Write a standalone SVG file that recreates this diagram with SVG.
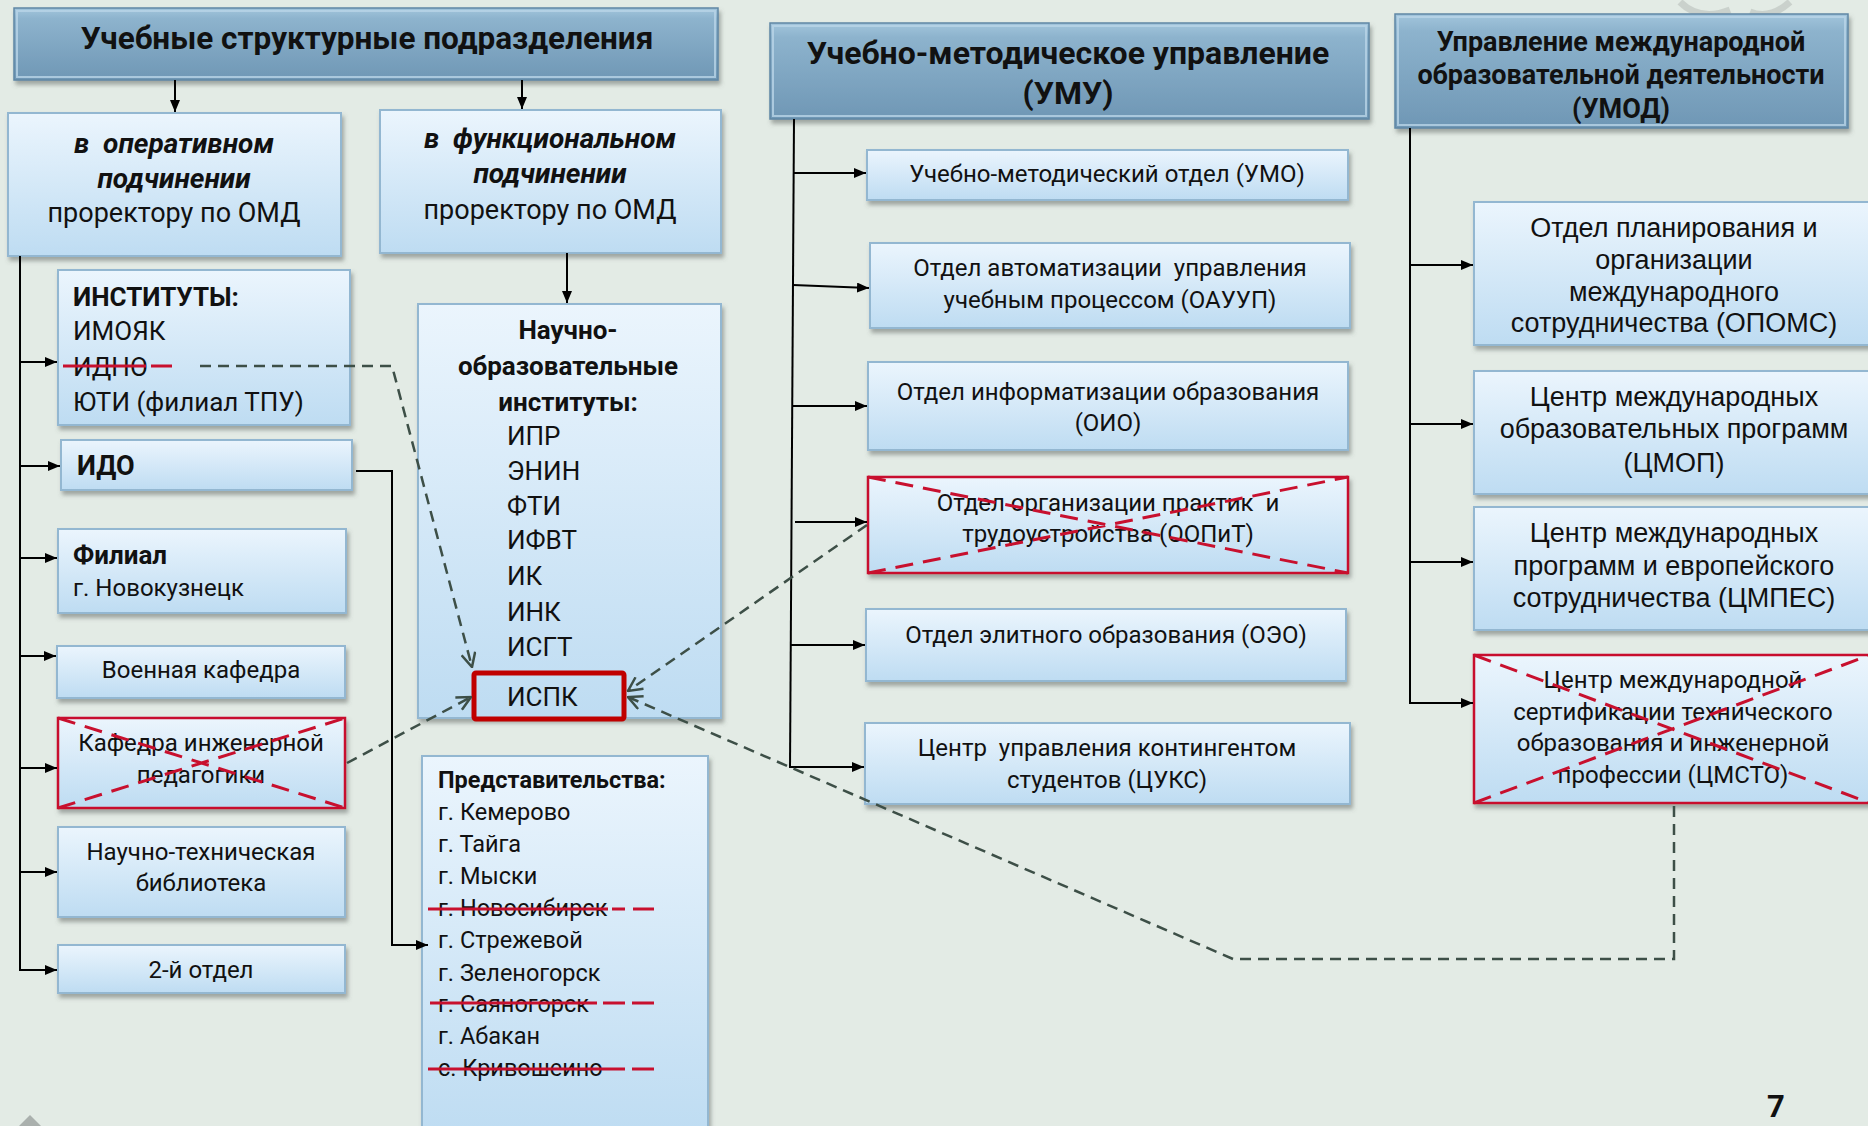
<svg xmlns="http://www.w3.org/2000/svg" width="1868" height="1126" viewBox="0 0 1868 1126">
<defs>
  <linearGradient id="gBox" x1="0" y1="0" x2="0" y2="1">
    <stop offset="0" stop-color="#ebf5fd"/>
    <stop offset="1" stop-color="#bedcf2"/>
  </linearGradient>
  <linearGradient id="gHead" x1="0" y1="0" x2="0" y2="1">
    <stop offset="0" stop-color="#a2c5dc"/>
    <stop offset="0.15" stop-color="#8db3cd"/>
    <stop offset="1" stop-color="#6f97b5"/>
  </linearGradient>
  <filter id="sh" x="-5%" y="-10%" width="115%" height="130%">
    <feDropShadow dx="2" dy="4" stdDeviation="2" flood-color="#5a605c" flood-opacity="0.5"/>
  </filter>
  <marker id="aS" viewBox="0 0 12 10" refX="12" refY="5" markerWidth="12" markerHeight="10" markerUnits="userSpaceOnUse" orient="auto">
    <path d="M0,0 L12,5 L0,10 Z" fill="#000"/>
  </marker>
  <marker id="aO" viewBox="0 0 16 16" refX="15" refY="8" markerWidth="16" markerHeight="16" markerUnits="userSpaceOnUse" orient="auto">
    <path d="M1,1 L15,8 L1,15" fill="none" stroke="#3d4f47" stroke-width="2.5"/>
  </marker>
  <style>
    .box{fill:url(#gBox);stroke:#93b7d1;stroke-width:2;filter:url(#sh)}
    .xbox{fill:url(#gBox);stroke:#c8102e;stroke-width:2.5;filter:url(#sh)}
    .head{fill:url(#gHead);stroke:#5f87a5;stroke-width:1.5;filter:url(#sh)}
    .hl{fill:none;stroke:#b9d5e7;stroke-width:2;opacity:0.8}
    .cr{stroke:#c8102e;stroke-width:3;stroke-dasharray:18 10;fill:none}
    .st{stroke:#c8102e;stroke-width:3;fill:none}
    .ln{stroke:#000;stroke-width:2;fill:none}
    .la{stroke:#000;stroke-width:2;fill:none;marker-end:url(#aS)}
    .da{stroke:#3d4f47;stroke-width:2.5;stroke-dasharray:11 7;fill:none;marker-end:url(#aO)}
    text{font-family:Roboto,"Liberation Sans",sans-serif;fill:#111;dominant-baseline:central;white-space:pre}
    .t{font-size:24px}
    .t26{font-size:26px}
    .t27{font-size:27px}
    .t28{font-size:28px}
    .c{text-anchor:middle}
    .b{font-weight:bold}
    .bi{font-weight:bold;font-style:italic}
    .h1{font-size:31.5px;font-weight:bold;text-anchor:middle}
    .h2{font-size:32px;font-weight:bold;text-anchor:middle}
    .h3{font-size:27px;font-weight:bold;text-anchor:middle}
    .a{font-family:"Liberation Sans",Arial,sans-serif;font-size:27px;text-anchor:middle}
    .p{font-size:23.5px}
  </style>
</defs>
<rect x="0" y="0" width="1868" height="1126" fill="#e3ebe5"/>
<path d="M1680,2 Q1700,22 1730,10 M1750,12 Q1770,20 1790,2" fill="none" stroke="#c3cbc6" stroke-width="7" opacity="0.8"/>
<path d="M19,1126 L30,1115 L41,1126 Z" fill="#aab0ad"/>

<g id="head-usp">
  <rect class="head" x="14" y="8" width="704" height="72"/>
  <rect class="hl" x="17" y="11" width="698" height="66"/>
  <text class="h1" x="367" y="38">Учебные структурные подразделения</text>
</g>
<g id="oper">
  <rect class="box" x="8" y="113" width="333" height="143"/>
  <text class="t28 bi c" x="174" y="143">в  оперативном</text>
  <text class="t28 bi c" x="174" y="178">подчинении</text>
  <text class="t27 c" x="174" y="213">проректору по ОМД</text>
</g>
<g id="func">
  <rect class="box" x="380" y="110" width="341" height="143"/>
  <text class="t28 bi c" x="550" y="138">в  функциональном</text>
  <text class="t28 bi c" x="550" y="173">подчинении</text>
  <text class="t27 c" x="550" y="210">проректору по ОМД</text>
</g>
<g id="inst">
  <rect class="box" x="58" y="270" width="292" height="155"/>
  <text class="t26 b" x="73" y="297">ИНСТИТУТЫ:</text>
  <text class="t26" x="73" y="331">ИМОЯК</text>
  <text class="t26" x="73" y="367">ИДНО</text>
  <line class="st" x1="63" y1="366" x2="172" y2="366" stroke-dasharray="83 5 30"/>
  <text class="t26" x="73" y="402">ЮТИ (филиал ТПУ)</text>
</g>
<g id="ido">
  <rect class="box" x="61" y="440" width="291" height="50"/>
  <text class="b" x="77" y="466" font-size="27">ИДО</text>
</g>
<g id="filial">
  <rect class="box" x="58" y="529" width="288" height="84"/>
  <text class="t26 b" x="73" y="555">Филиал</text>
  <text class="t" x="73" y="588">г. Новокузнецк</text>
</g>
<g id="voen">
  <rect class="box" x="57" y="646" width="288" height="52"/>
  <text class="t c" x="201" y="670">Военная кафедра</text>
</g>
<g id="kip">
  <rect class="xbox" x="58" y="718" width="287" height="90"/>
  <text class="t c" x="201" y="743">Кафедра инженерной</text>
  <text class="t c" x="201" y="775">педагогики</text>
  <path class="cr" d="M58,718 L345,808 M58,808 L345,718"/>
</g>
<g id="ntb">
  <rect class="box" x="58" y="827" width="287" height="90"/>
  <text class="t c" x="201" y="852">Научно-техническая</text>
  <text class="t c" x="201" y="883">библиотека</text>
</g>
<g id="otd2">
  <rect class="box" x="58" y="945" width="287" height="48"/>
  <text class="t c" x="201" y="970">2-й отдел</text>
</g>
<g id="noi">
  <rect class="box" x="418" y="304" width="303" height="414"/>
  <text class="t26 b c" x="568" y="330">Научно-</text>
  <text class="t26 b c" x="568" y="366">образовательные</text>
  <text class="t26 b c" x="568" y="402">институты:</text>
  <text class="t26" x="507" y="436">ИПР</text>
  <text class="t26" x="507" y="471">ЭНИН</text>
  <text class="t26" x="507" y="506">ФТИ</text>
  <text class="t26" x="507" y="540">ИФВТ</text>
  <text class="t26" x="507" y="576">ИК</text>
  <text class="t26" x="507" y="612">ИНК</text>
  <text class="t26" x="507" y="647">ИСГТ</text>
</g>
<g id="ispk">
  <rect x="474" y="673" width="150" height="46" rx="2" fill="none" stroke="#c00000" stroke-width="5"/>
  <text class="t26" x="507" y="697">ИСПК</text>
</g>
<g id="pred">
  <rect class="box" x="422" y="756" width="286" height="380"/>
  <text class="p b" x="438" y="780">Представительства:</text>
  <text class="p" x="438" y="812">г. Кемерово</text>
  <text class="p" x="438" y="844">г. Тайга</text>
  <text class="p" x="438" y="876">г. Мыски</text>
  <text class="p" x="438" y="908">г. Новосибирск</text>
  <text class="p" x="438" y="940">г. Стрежевой</text>
  <text class="p" x="438" y="973">г. Зеленогорск</text>
  <text class="p" x="438" y="1004">г. Саяногорск</text>
  <text class="p" x="438" y="1036">г. Абакан</text>
  <text class="p" x="438" y="1068">с. Кривошеино</text>
  <line class="st" x1="428" y1="909" x2="654" y2="909" stroke-dasharray="180 4 13 8 22"/>
  <line class="st" x1="430" y1="1003" x2="657" y2="1003" stroke-dasharray="167 6 22 7 22"/>
  <line class="st" x1="428" y1="1069" x2="654" y2="1069" stroke-dasharray="197 7 22"/>
</g>

<g id="head-umu">
  <rect class="head" x="770" y="23" width="599" height="96"/>
  <rect class="hl" x="773" y="26" width="593" height="90"/>
  <text class="h2" x="1068" y="53">Учебно-методическое управление</text>
  <text class="h2" x="1068" y="93">(УМУ)</text>
</g>
<g id="umo">
  <rect class="box" x="867" y="150" width="481" height="50"/>
  <text class="t c" x="1107" y="174">Учебно-методический отдел (УМО)</text>
</g>
<g id="oauup">
  <rect class="box" x="870" y="243" width="480" height="85"/>
  <text class="t c" x="1110" y="268">Отдел автоматизации  управления</text>
  <text class="t c" x="1110" y="300">учебным процессом (ОАУУП)</text>
</g>
<g id="oio">
  <rect class="box" x="868" y="362" width="480" height="88"/>
  <text class="t c" x="1108" y="392">Отдел информатизации образования</text>
  <text class="t c" x="1108" y="423">(ОИО)</text>
</g>
<g id="oopit">
  <rect class="xbox" x="868" y="477" width="480" height="96"/>
  <text class="t c" x="1108" y="503">Отдел организации практик  и</text>
  <text class="t c" x="1108" y="534">трудоустройства (ООПиТ)</text>
  <path class="cr" d="M868,477 L1348,573 M868,573 L1348,477"/>
</g>
<g id="oeo">
  <rect class="box" x="866" y="609" width="480" height="72"/>
  <text class="t c" x="1106" y="635">Отдел элитного образования (ОЭО)</text>
</g>
<g id="tsuks">
  <rect class="box" x="865" y="723" width="485" height="81"/>
  <text class="t c" x="1107" y="748">Центр  управления контингентом</text>
  <text class="t c" x="1107" y="780">студентов (ЦУКС)</text>
</g>

<g id="head-umod">
  <rect class="head" x="1395" y="14" width="453" height="114"/>
  <rect class="hl" x="1398" y="17" width="447" height="108"/>
  <text class="h3" x="1621" y="42">Управление международной</text>
  <text class="h3" x="1621" y="75">образовательной деятельности</text>
  <text class="h3" x="1621" y="109">(УМОД)</text>
</g>
<g id="opoms">
  <rect class="box" x="1474" y="202" width="410" height="143"/>
  <text class="a" x="1674" y="228">Отдел планирования и</text>
  <text class="a" x="1674" y="260">организации</text>
  <text class="a" x="1674" y="292">международного</text>
  <text class="a" x="1674" y="323">сотрудничества (ОПОМС)</text>
</g>
<g id="tsmop">
  <rect class="box" x="1474" y="371" width="410" height="123"/>
  <text class="a" x="1674" y="397">Центр международных</text>
  <text class="a" x="1674" y="429">образовательных программ</text>
  <text class="a" x="1674" y="463">(ЦМОП)</text>
</g>
<g id="tsmpes">
  <rect class="box" x="1474" y="507" width="410" height="123"/>
  <text class="a" x="1674" y="533">Центр международных</text>
  <text class="a" x="1674" y="566">программ и европейского</text>
  <text class="a" x="1674" y="598">сотрудничества (ЦМПЕС)</text>
</g>
<g id="tsmsto">
  <rect class="xbox" x="1474" y="655" width="410" height="148"/>
  <text class="c" x="1673" y="680" font-size="24">Центр международной</text>
  <text class="c" x="1673" y="712" font-size="24">сертификации технического</text>
  <text class="c" x="1673" y="743" font-size="24">образования и инженерной</text>
  <text class="c" x="1673" y="775" font-size="24">профессии (ЦМСТО)</text>
  <path class="cr" d="M1474,655 L1870,803 M1474,803 L1870,655"/>
</g>
<text x="1776" y="1117" font-family="Liberation Sans,Arial,sans-serif" font-size="31" font-weight="bold" text-anchor="middle" style="dominant-baseline:auto">7</text>

<g id="connectors">
  <line class="la" x1="175" y1="80" x2="175" y2="112"/>
  <line class="la" x1="522" y1="80" x2="522" y2="109"/>
  <line class="la" x1="567" y1="253" x2="567" y2="303"/>
  <line class="ln" x1="20" y1="256" x2="20" y2="971"/>
  <line class="la" x1="20" y1="362" x2="57" y2="362"/>
  <line class="la" x1="20" y1="466" x2="60" y2="466"/>
  <line class="la" x1="20" y1="558" x2="57" y2="558"/>
  <line class="la" x1="20" y1="656" x2="56" y2="656"/>
  <line class="la" x1="20" y1="768" x2="57" y2="768"/>
  <line class="la" x1="20" y1="872" x2="57" y2="872"/>
  <line class="la" x1="20" y1="970" x2="57" y2="970"/>
  <path class="la" d="M356,471 H392 V945 H428"/>
  <line class="ln" x1="794" y1="119" x2="790" y2="768"/>
  <line class="la" x1="794" y1="173" x2="866" y2="173"/>
  <line class="la" x1="793" y1="285" x2="869" y2="288"/>
  <line class="la" x1="792" y1="406" x2="867" y2="406"/>
  <line class="la" x1="795" y1="522" x2="867" y2="522"/>
  <line class="la" x1="791" y1="645" x2="865" y2="645"/>
  <line class="la" x1="790" y1="767" x2="864" y2="767"/>
  <line class="ln" x1="1410" y1="128" x2="1410" y2="704"/>
  <line class="la" x1="1410" y1="265" x2="1473" y2="265"/>
  <line class="la" x1="1410" y1="424" x2="1473" y2="424"/>
  <line class="la" x1="1410" y1="562" x2="1473" y2="562"/>
  <line class="la" x1="1410" y1="703" x2="1473" y2="703"/>
  <path class="da" d="M200,366 H392 L472,667"/>
  <path class="da" d="M347,763 L471,697"/>
  <path class="da" d="M867,525 L628,691"/>
  <path class="da" d="M1674,806 V959 H1233 L628,697"/>
</g>
</svg>
